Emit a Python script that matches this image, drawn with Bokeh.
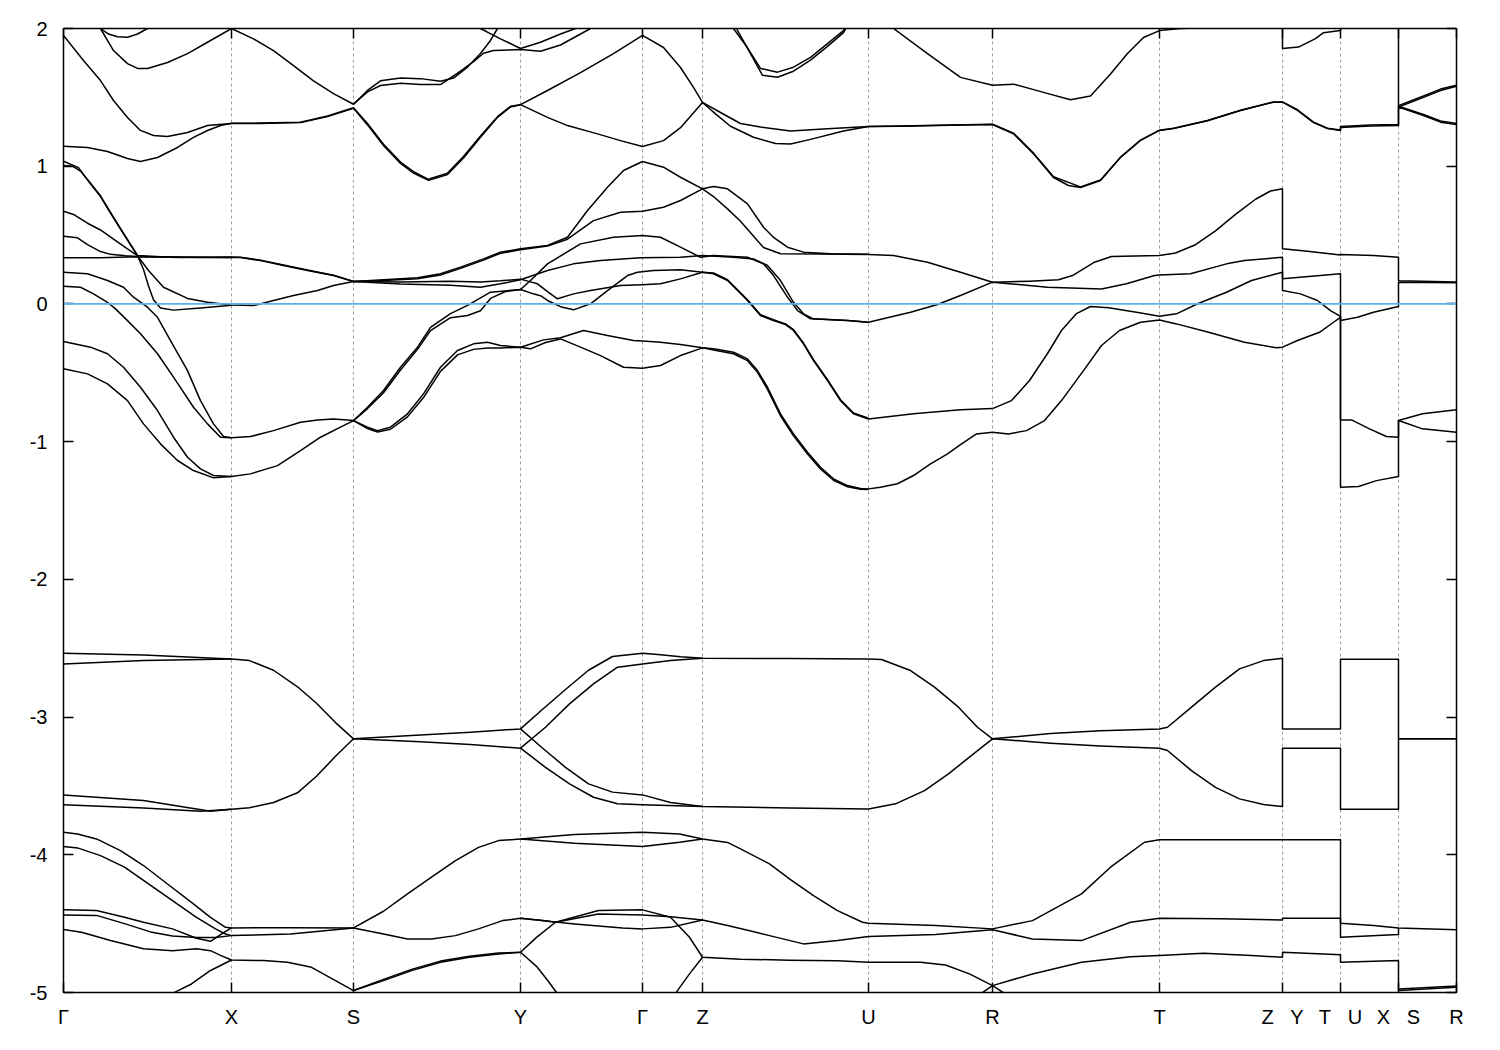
from bokeh.plotting import figure
from bokeh.models import Range1d, FixedTicker, Span, LinearAxis
from bokeh.embed import file_html
from bokeh.resources import INLINE

# ---- k-path (path coordinate, arbitrary units, offset K0) ----
K0 = 63
kticks = [63, 231, 353, 520, 642, 702, 868, 992, 1159, 1282, 1340, 1398, 1456]
NB = "\u00a0\u00a0\u00a0"
klabels = ["Γ", "X", "S", "Y", "Γ", "Z", "U", "R", "T",
           "Z" + NB + "Y", "T" + NB + "U", "X" + NB + "S", "R"]
eticks = [-5, -4, -3, -2, -1, 0, 1, 2]

# ---- bands: (k, E[eV]) ----
t1 = [(63,1.949),(83,1.767),(100,1.622),(113,1.477),(127,1.354),(140,1.26),(153,1.223),(167,1.216),(187,1.245),(207,1.296),(231,1.31),(260,1.31),(300,1.317),(327,1.36),(353,1.42),(367,1.30),(383,1.15),(400,1.02),(413,0.95),(428,0.897),(447,0.94),(463,1.06),(480,1.21),(497,1.355),(510,1.43),(520,1.447),(547,1.55),(580,1.68),(613,1.818),(642,1.95),(663,1.862),(680,1.717),(693,1.572),(702,1.463),(720,1.39),(740,1.31),(760,1.285),(790,1.255),(827,1.272),(868,1.288),(900,1.29),(950,1.297),(992,1.303),(1013,1.236),(1033,1.09),(1053,0.918),(1068,0.86),(1080,0.845),(1100,0.896),(1120,1.063),(1140,1.187),(1159,1.26),(1173,1.273),(1207,1.33),(1240,1.405),(1273,1.465),(1282,1.465),(1297,1.405),(1313,1.317),(1327,1.273),(1340,1.26),(1340,1.288),(1370,1.30),(1398,1.303),(1398,1.43),(1423,1.368),(1440,1.32),(1456,1.303)]
t2 = [(63,1.145),(87,1.136),(107,1.107),(127,1.056),(140,1.034),(157,1.063),(177,1.136),(193,1.209),(207,1.259),(220,1.296),(231,1.312),(260,1.313),(300,1.32),(327,1.365),(353,1.425),(367,1.31),(383,1.16),(400,1.03),(413,0.96),(428,0.905),(447,0.95),(463,1.07),(480,1.22),(497,1.36),(510,1.435),(520,1.447),(547,1.355),(567,1.295),(597,1.235),(620,1.186),(642,1.143),(663,1.186),(680,1.28),(702,1.463),(715,1.38),(730,1.29),(753,1.21),(775,1.165),(790,1.162),(810,1.195),(843,1.255),(868,1.288),(900,1.292),(950,1.299),(992,1.305),(1013,1.24),(1033,1.095),(1053,0.923),(1080,0.85),(1100,0.9),(1120,1.066),(1140,1.19),(1159,1.262),(1173,1.275),(1207,1.332),(1240,1.407),(1273,1.467),(1282,1.467),(1297,1.41),(1313,1.32),(1327,1.276),(1340,1.263),(1340,1.282),(1370,1.292),(1398,1.296),(1398,1.435),(1423,1.375),(1440,1.328),(1456,1.31)]
t3 = [(95,2.06),(100,2.0),(113,1.84),(127,1.745),(137,1.71),(147,1.71),(167,1.753),(187,1.818),(207,1.9),(231,2.0),(253,1.925),(273,1.84),(293,1.73),(313,1.62),(333,1.527),(353,1.45),(367,1.55),(380,1.62),(400,1.64),(420,1.636),(440,1.617),(453,1.64),(467,1.72),(480,1.818),(490,1.913),(497,2.0),(503,2.08)]
t4 = [(353,1.45),(367,1.54),(380,1.586),(400,1.603),(420,1.593),(440,1.593),(460,1.69),(473,1.76),(483,1.82),(493,1.84),(520,1.847),(540,1.835),(560,1.88),(580,1.96),(590,2.0),(598,2.06)]
t5 = [(95,2.06),(100,2.0),(108,1.96),(117,1.94),(127,1.937),(137,1.96),(147,2.0),(152,2.06)]
t6 = [(470,2.06),(480,2.0),(500,1.925),(520,1.855),(540,1.90),(560,1.96),(575,2.0),(582,2.06)]
t7a = [(727,2.06),(733,2.0),(747,1.86),(760,1.71),(777,1.683),(793,1.719),(810,1.79),(827,1.89),(843,1.985),(848,2.06)]
t7b = [(729,2.06),(736,2.0),(749,1.83),(762,1.66),(777,1.646),(793,1.69),(810,1.77),(827,1.87),(843,1.97),(850,2.06)]
t8 = [(878,2.1),(893,2.0),(927,1.818),(960,1.645),(992,1.588),(1013,1.596),(1043,1.536),(1070,1.483),(1090,1.51),(1110,1.67),(1127,1.818),(1143,1.935),(1159,1.985),(1180,2.0),(1230,2.01),(1282,2.02),(1282,1.855),(1298,1.865),(1315,1.927),(1323,1.97),(1340,1.985),(1340,2.3),(1398,2.3),(1398,1.43),(1423,1.50),(1440,1.55),(1456,1.58)]
t9 = [(1398,1.44),(1423,1.51),(1440,1.56),(1456,1.588)]

m1 = [(63,1.036),(78,0.99),(88,0.89),(100,0.78),(110,0.66),(122,0.52),(137,0.35),(148,0.243),(163,0.121),(187,0.04),(207,0.013),(231,-0.008),(253,-0.012),(273,0.025),(293,0.061),(317,0.097),(333,0.134),(353,0.163)]
m2 = [(63,1.005),(72,1.0),(80,0.965),(88,0.895),(100,0.785),(110,0.665),(122,0.525),(137,0.352),(160,0.342),(200,0.338),(231,0.338),(240,0.337),(260,0.315),(283,0.279),(307,0.243),(333,0.206),(353,0.163)]
m3 = [(63,0.673),(73,0.65),(87,0.586),(100,0.537),(113,0.47),(127,0.40),(137,0.35),(143,0.25),(148,0.13),(153,0.03),(160,-0.03),(173,-0.045),(200,-0.03),(231,-0.01)]
m4 = [(63,0.492),(77,0.48),(87,0.43),(100,0.38),(110,0.36),(125,0.35),(137,0.345),(180,0.337),(231,0.34),(240,0.339),(260,0.318),(283,0.282),(307,0.246),(333,0.209),(353,0.163)]
m5 = [(63,0.335),(100,0.336),(137,0.342),(231,0.337)]
s1a = [(353,0.163),(383,0.175),(417,0.19),(440,0.219),(460,0.267),(483,0.327),(500,0.376),(520,0.40),(547,0.424),(567,0.484),(587,0.678),(607,0.848),(623,0.969),(642,1.034),(663,0.993),(680,0.92),(702,0.836),(713,0.78),(727,0.69),(740,0.60),(752,0.50),(763,0.41),(780,0.364),(820,0.362),(868,0.359),(893,0.351),(927,0.303),(960,0.23),(992,0.158)]
s1b = [(353,0.163),(383,0.17),(417,0.183),(440,0.21),(460,0.258),(483,0.318),(500,0.368),(520,0.393),(547,0.42),(567,0.47),(593,0.605),(620,0.666),(642,0.673),(663,0.702),(680,0.751),(702,0.836),(713,0.853),(727,0.836),(747,0.727),(763,0.557),(773,0.484),(787,0.412),(803,0.376),(830,0.364),(868,0.36)]
s2a = [(353,0.163),(400,0.16),(450,0.165),(480,0.16),(500,0.168),(520,0.18),(530,0.16),(537,0.146),(547,0.09),(557,0.037),(573,0.073),(590,0.097),(620,0.134),(642,0.14),(660,0.146),(680,0.182),(702,0.23),(713,0.225),(727,0.176),(747,0.031),(760,-0.078),(773,-0.115),(785,-0.145),(793,-0.187),(803,-0.284),(813,-0.405),(827,-0.55),(840,-0.696),(853,-0.792),(868,-0.829)]
s2b = [(353,0.163),(400,0.145),(450,0.135),(480,0.121),(500,0.146),(520,0.175),(547,0.243),(573,0.291),(600,0.315),(640,0.335),(680,0.339),(702,0.351),(733,0.339),(753,0.327),(767,0.279),(780,0.17),(793,0.012),(803,-0.072),(813,-0.108),(847,-0.121),(868,-0.133)]
na = [(353,-0.847),(367,-0.75),(383,-0.629),(400,-0.46),(417,-0.314),(430,-0.17),(450,-0.07),(467,-0.01),(490,0.085),(520,0.105),(530,0.08),(540,0.06),(547,0.025),(560,-0.02),(573,-0.043),(590,0.001),(607,0.097),(627,0.206),(637,0.23),(653,0.243),(680,0.248),(702,0.23),(713,0.219),(727,0.17),(747,0.025),(760,-0.084),(773,-0.121),(785,-0.15),(793,-0.193),(803,-0.29),(813,-0.411),(827,-0.556),(840,-0.702),(853,-0.798),(868,-0.835),(913,-0.798),(960,-0.769),(992,-0.76)]
nb = [(353,-0.847),(367,-0.76),(383,-0.645),(400,-0.48),(417,-0.33),(430,-0.193),(450,-0.1),(467,-0.084),(480,-0.05),(490,0.04),(505,0.09),(520,0.105),(530,0.17),(547,0.291),(580,0.436),(613,0.484),(642,0.497),(660,0.484),(680,0.412),(700,0.339),(713,0.351),(747,0.339),(763,0.291),(773,0.206),(787,0.049),(797,-0.048),(810,-0.108),(847,-0.121),(868,-0.133),(910,-0.06),(937,-0.004),(960,0.061),(992,0.158)]
d1 = [(353,-0.847),(367,-0.895),(377,-0.92),(390,-0.895),(407,-0.798),(423,-0.653),(440,-0.46),(457,-0.338),(473,-0.29),(487,-0.278),(500,-0.302),(520,-0.314),(543,-0.261),(560,-0.246),(583,-0.193),(607,-0.23),(633,-0.265),(642,-0.27),(660,-0.278),(680,-0.295),(702,-0.319),(713,-0.326),(733,-0.351),(747,-0.399),(757,-0.484),(767,-0.605),(780,-0.798),(793,-0.944),(807,-1.077),(820,-1.186),(833,-1.27),(847,-1.319),(860,-1.34),(868,-1.343),(880,-1.331),(897,-1.306),(913,-1.246),(930,-1.161),(947,-1.089),(960,-1.021),(976,-0.944),(992,-0.932)]
d2 = [(353,-0.847),(367,-0.905),(377,-0.93),(390,-0.91),(407,-0.82),(423,-0.68),(440,-0.49),(457,-0.37),(473,-0.33),(487,-0.32),(500,-0.32),(520,-0.314),(530,-0.326),(545,-0.28),(560,-0.254),(580,-0.314),(600,-0.375),(623,-0.46),(642,-0.467),(660,-0.447),(680,-0.375),(702,-0.319),(713,-0.335),(733,-0.362),(747,-0.412),(757,-0.497),(767,-0.62),(780,-0.812),(793,-0.958),(807,-1.09),(820,-1.198),(833,-1.28),(847,-1.328),(860,-1.345),(868,-1.347)]
n1 = [(63,0.129),(80,0.121),(93,0.073),(107,0.012),(115,-0.036),(127,-0.121),(140,-0.217),(157,-0.362),(173,-0.532),(193,-0.75),(207,-0.871),(220,-0.968),(231,-0.972),(250,-0.963),(273,-0.92),(300,-0.859),(317,-0.842),(333,-0.835),(353,-0.847)]
n2 = [(63,0.23),(87,0.219),(107,0.17),(123,0.121),(133,0.049),(147,-0.024),(157,-0.097),(170,-0.266),(187,-0.484),(200,-0.702),(213,-0.871),(223,-0.963),(231,-0.972)]
n3 = [(63,-0.273),(90,-0.314),(107,-0.362),(123,-0.46),(140,-0.605),(157,-0.774),(173,-0.968),(187,-1.113),(200,-1.198),(213,-1.246),(231,-1.253),(250,-1.234),(277,-1.174),(300,-1.065),(320,-0.968),(340,-0.895),(353,-0.847)]
n4 = [(63,-0.471),(87,-0.508),(107,-0.58),(127,-0.702),(143,-0.871),(160,-1.016),(177,-1.137),(193,-1.21),(213,-1.263),(231,-1.253)]
z1r = [(992,0.158),(1029,0.165),(1058,0.175),(1072,0.206),(1094,0.303),(1111,0.344),(1159,0.351),(1175,0.37),(1195,0.43),(1215,0.53),(1235,0.65),(1255,0.76),(1270,0.82),(1282,0.836),(1282,0.40),(1307,0.383),(1340,0.355),(1340,0.359),(1373,0.351),(1398,0.339),(1398,0.169),(1456,0.16)]
z2r = [(992,0.158),(1047,0.121),(1101,0.109),(1126,0.146),(1154,0.206),(1159,0.21),(1190,0.219),(1226,0.291),(1244,0.315),(1282,0.339),(1282,0.182),(1340,0.219),(1340,-0.12),(1357,-0.097),(1373,-0.06),(1398,-0.019),(1398,0.158),(1456,0.153)]
pr = [(992,-0.76),(1011,-0.702),(1029,-0.556),(1047,-0.36),(1061,-0.193),(1076,-0.07),(1090,-0.019),(1108,-0.028),(1136,-0.06),(1159,-0.09),(1176,-0.072),(1197,0.001),(1226,0.085),(1251,0.17),(1282,0.23),(1282,0.097),(1300,0.073),(1317,0.025),(1330,-0.048),(1340,-0.09),(1340,-0.842),(1351,-0.842),(1369,-0.907),(1386,-0.963),(1398,-0.968),(1398,-0.847),(1422,-0.798),(1456,-0.769)]
qr = [(992,-0.932),(1008,-0.944),(1026,-0.92),(1044,-0.847),(1061,-0.702),(1083,-0.484),(1101,-0.302),(1119,-0.193),(1140,-0.133),(1159,-0.116),(1176,-0.145),(1208,-0.206),(1244,-0.278),(1276,-0.319),(1282,-0.314),(1297,-0.266),(1319,-0.206),(1333,-0.133),(1340,-0.097),(1340,-1.331),(1358,-1.326),(1376,-1.283),(1398,-1.253),(1398,-0.847),(1422,-0.907),(1456,-0.932)]

ml1 = [(63,-2.537),(143,-2.55),(231,-2.578),(249,-2.59),(273,-2.66),(297,-2.78),(316,-2.90),(335,-3.04),(353,-3.158),(420,-3.13),(470,-3.11),(520,-3.086),(541,-2.95),(565,-2.80),(588,-2.66),(612,-2.56),(642,-2.537),(660,-2.548),(680,-2.562),(702,-2.573),(790,-2.575),(868,-2.578),(881,-2.582),(910,-2.662),(934,-2.783),(958,-2.928),(977,-3.074),(992,-3.158),(1050,-3.12),(1100,-3.10),(1159,-3.086),(1167,-3.074),(1191,-2.928),(1215,-2.783),(1239,-2.65),(1263,-2.59),(1282,-2.573),(1282,-3.086),(1340,-3.086),(1340,-2.58),(1398,-2.58),(1398,-3.158),(1456,-3.158)]
ml2 = [(63,-2.614),(143,-2.59),(231,-2.578)]
ml2b = [(520,-3.086),(541,-3.219),(565,-3.365),(588,-3.485),(612,-3.545),(642,-3.565),(670,-3.62),(702,-3.65),(790,-3.66),(868,-3.667),(895,-3.63),(924,-3.534),(948,-3.412),(973,-3.267),(992,-3.158),(1050,-3.19),(1100,-3.21),(1159,-3.226),(1167,-3.243),(1191,-3.389),(1215,-3.51),(1239,-3.594),(1263,-3.635),(1282,-3.65),(1282,-3.226),(1340,-3.226),(1340,-3.67),(1398,-3.67),(1398,-3.158),(1456,-3.158)]
ml3 = [(63,-3.565),(143,-3.606),(210,-3.684),(231,-3.67),(249,-3.658),(273,-3.62),(297,-3.55),(316,-3.43),(335,-3.285),(353,-3.158),(420,-3.18),(470,-3.20),(520,-3.226),(545,-3.074),(569,-2.904),(593,-2.759),(617,-2.638),(642,-2.614),(670,-2.59),(702,-2.573)]
ml4 = [(63,-3.637),(143,-3.66),(200,-3.684),(231,-3.67)]
ml4b = [(520,-3.226),(545,-3.365),(569,-3.485),(593,-3.582),(617,-3.63),(642,-3.637),(702,-3.65)]

b1 = [(63,-3.837),(77,-3.849),(96,-3.885),(120,-3.97),(143,-4.078),(167,-4.212),(191,-4.345),(210,-4.454),(225,-4.527),(231,-4.531),(290,-4.53),(353,-4.531),(383,-4.41),(407,-4.284),(431,-4.163),(455,-4.042),(478,-3.946),(498,-3.897),(520,-3.885),(574,-3.853),(642,-3.837),(679,-3.849),(702,-3.885),(727,-3.91),(740,-3.957),(769,-4.066),(790,-4.18),(813,-4.296),(837,-4.405),(862,-4.49),(868,-4.497),(935,-4.514),(992,-4.538),(1032,-4.478),(1081,-4.284),(1110,-4.09),(1144,-3.909),(1159,-3.89),(1220,-3.89),(1282,-3.89),(1340,-3.89),(1340,-4.497),(1373,-4.514),(1398,-4.531),(1456,-4.545)]
b2 = [(63,-3.94),(77,-3.95),(100,-4.006),(124,-4.09),(148,-4.212),(172,-4.333),(196,-4.454),(215,-4.538),(225,-4.575),(231,-4.587),(290,-4.575),(353,-4.531),(383,-4.575),(407,-4.611),(431,-4.611),(455,-4.587),(478,-4.538),(502,-4.478),(520,-4.461),(574,-4.502),(622,-4.531),(642,-4.538),(670,-4.527),(702,-4.473),(727,-4.514),(745,-4.545),(769,-4.587),(803,-4.647),(837,-4.623),(868,-4.594),(935,-4.579),(992,-4.545),(1032,-4.611),(1081,-4.623),(1130,-4.49),(1159,-4.461),(1220,-4.465),(1282,-4.473),(1282,-4.461),(1340,-4.461),(1340,-4.599),(1398,-4.579),(1398,-4.531)]
b3 = [(63,-4.40),(96,-4.405),(124,-4.454),(143,-4.49),(172,-4.538),(196,-4.606),(210,-4.628),(222,-4.57),(231,-4.531)]
b4 = [(63,-4.437),(96,-4.44),(124,-4.50),(150,-4.56),(172,-4.59),(196,-4.60),(215,-4.60),(231,-4.587)]
b5 = [(63,-4.543),(81,-4.563),(110,-4.623),(143,-4.683),(172,-4.696),(196,-4.683),(210,-4.696),(220,-4.73),(231,-4.764),(263,-4.768),(287,-4.78),(311,-4.817),(335,-4.914),(353,-4.986),(383,-4.914),(411,-4.841),(440,-4.781),(469,-4.744),(498,-4.72),(520,-4.708),(536,-4.81),(548,-4.92),(556,-5.0),(563,-5.08)]
b6 = [(158,-5.1),(172,-5.006),(191,-4.938),(210,-4.84),(231,-4.764)]
b7 = [(353,-4.986),(383,-4.905),(411,-4.832),(440,-4.772),(469,-4.736),(498,-4.714),(520,-4.708),(536,-4.60),(555,-4.49),(598,-4.405),(642,-4.40),(670,-4.454),(689,-4.599),(702,-4.744),(740,-4.758),(789,-4.765),(837,-4.77),(868,-4.78),(920,-4.78),(945,-4.80),(969,-4.865),(992,-4.95),(1032,-4.865),(1081,-4.78),(1130,-4.74),(1159,-4.732),(1203,-4.715),(1251,-4.732),(1282,-4.744),(1282,-4.708),(1340,-4.725),(1340,-4.78),(1398,-4.768),(1398,-4.986),(1456,-4.962)]
b8 = [(520,-4.461),(540,-4.475),(555,-4.49),(598,-4.43),(642,-4.437),(670,-4.45),(702,-4.473)]
b9 = [(520,-3.885),(574,-3.916),(642,-3.94),(679,-3.909),(702,-3.885)]
b10 = [(670,-5.1),(675,-5.006),(689,-4.865),(702,-4.744)]
b11 = [(962,-5.1),(992,-4.95),(1024,-5.1)]
b12 = [(1398,-4.975),(1456,-4.952)]

bands = [t1, t2, t3, t4, t5, t6, t7a, t7b, t8, t9,
         m1, m2, m3, m4, m5, s1a, s1b, s2a, s2b, na, nb, d1, d2,
         n1, n2, n3, n4, z1r, z2r, pr, qr,
         ml1, ml2, ml2b, ml3, ml4, ml4b,
         b1, b2, b3, b4, b5, b6, b7, b8, b9, b10, b11, b12]

xs = [[k - K0 for k, _ in b] for b in bands]
ys = [[e for _, e in b] for b in bands]
kt = [k - K0 for k in kticks]

FONT = "Liberation Sans"
p = figure(width=1490, height=1040,
           x_range=Range1d(kt[0], kt[-1]), y_range=Range1d(-5, 2),
           output_backend="svg", toolbar_location=None,
           min_border_left=63, min_border_right=34,
           min_border_top=28, min_border_bottom=48)
p.background_fill_color = "white"
p.border_fill_color = "white"
p.outline_line_color = "black"
p.outline_line_width = 1.5

p.multi_line(xs, ys, line_color="black", line_width=1.5, line_join="round")

p.add_layout(Span(location=0, dimension="width", line_color="#56B4E9", line_width=1.8))

xt = FixedTicker(ticks=kt)
yt = FixedTicker(ticks=eticks)

p.xaxis.ticker = xt
p.xaxis.major_label_overrides = {k: l for k, l in zip(kt, klabels)}
p.yaxis.ticker = yt
p.yaxis.major_label_overrides = {e: str(e) for e in eticks}
for ax in (p.xaxis[0], p.yaxis[0]):
    ax.axis_line_color = None
    ax.major_tick_in = 10
    ax.major_tick_out = 0
    ax.major_tick_line_color = "black"
    ax.major_tick_line_width = 1.5
    ax.minor_tick_line_color = None
    ax.major_label_text_font = FONT
    ax.major_label_text_font_size = "20px"
    ax.major_label_text_color = "black"
p.xaxis.major_label_standoff = 13
p.yaxis.major_label_standoff = 16

for ticker, side in ((yt, "right"), (xt, "above")):
    ax = LinearAxis(ticker=ticker, axis_line_color=None, major_tick_in=10,
                    major_tick_out=0, major_tick_line_color="black",
                    major_tick_line_width=1.5, minor_tick_line_color=None,
                    major_label_text_color=None, major_label_text_font_size="1px",
                    major_label_standoff=0)
    p.add_layout(ax, side)

p.xgrid.ticker = xt
p.xgrid.grid_line_color = "#9a9a9a"
p.xgrid.grid_line_dash = "3 3"
p.xgrid.grid_line_width = 1
p.ygrid.visible = False

open("out.html", "w").write(file_html(p, INLINE))
